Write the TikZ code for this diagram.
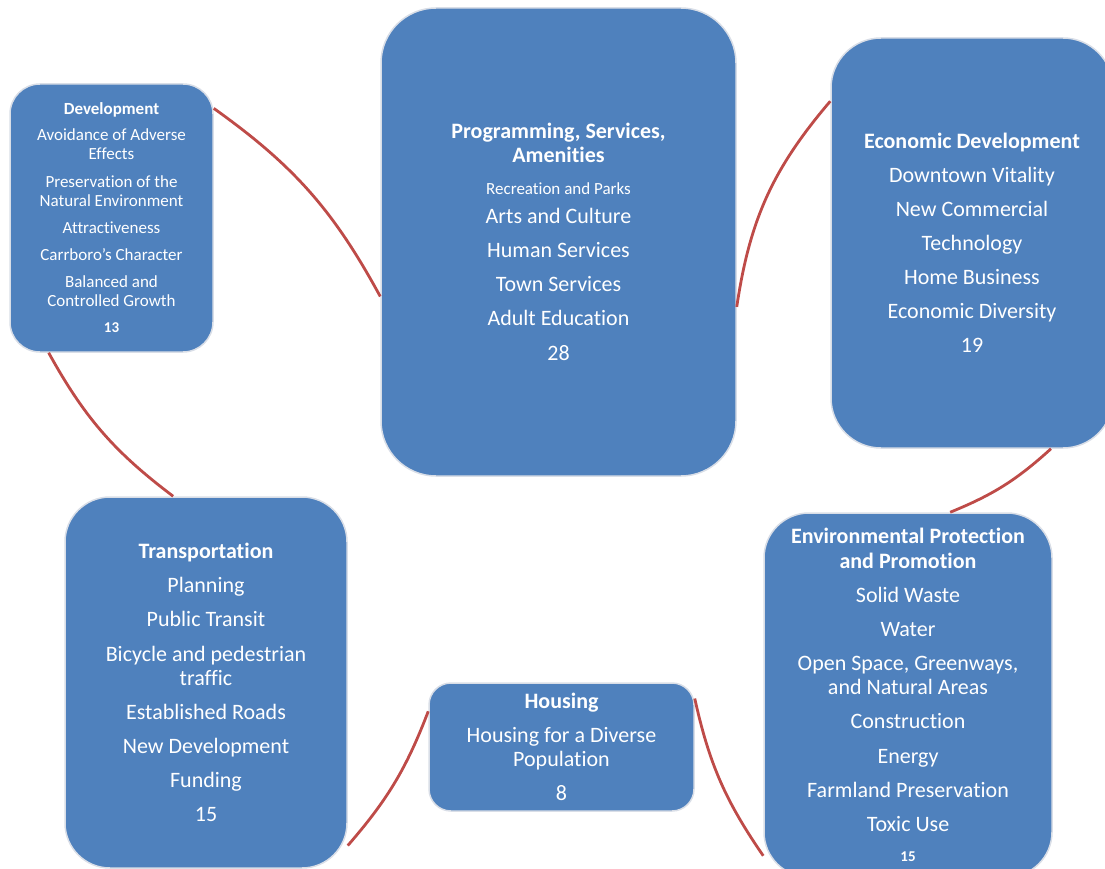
\documentclass[tikz,border=0pt]{standalone}
\usepackage{fontspec}
\setmainfont{Carlito}[Ligatures={NoCommon}]
\definecolor{boxblue}{HTML}{4F81BD}
\definecolor{boxedge}{HTML}{D9DEE7}
\definecolor{linkred}{HTML}{BE4B48}
\tikzset{
  card/.style={draw=boxedge, line width=1.5pt, fill=boxblue, text=white,
    align=center, inner sep=0pt, font=\fontsize{22}{24.5}\selectfont},
  link/.style={draw=linkred, line width=2.8pt},
}
\newcommand{\smallitem}{\fontsize{17}{19}\selectfont}
\newcommand{\tinynum}{\fontsize{15}{17}\selectfont\bfseries}
\begin{document}
\begin{tikzpicture}[x=1pt,y=-1pt]
\useasboundingbox (0,0) rectangle (1105,869);

\node[card, minimum width=203pt, minimum height=268pt, rounded corners=30pt,
      font=\fontsize{17}{19}\selectfont] (dev) at (111.5,218)
  {\textbf{Development}\\[7pt]
   Avoidance of Adverse\\ Effects\\[9pt]
   Preservation of the\\ Natural Environment\\[8pt]
   Attractiveness\\[8pt]
   Carrboro’s Character\\[8pt]
   Balanced and\\ Controlled Growth\\[7pt]
   {\tinynum 13}};

\node[card, minimum width=355pt, minimum height=468pt, rounded corners=55pt] (prog) at (558.5,242)
  {\textbf{Programming, Services,}\\ \textbf{Amenities}\\[7.5pt]
   {\smallitem Recreation and Parks}\\[4.5pt]
   Arts and Culture\\[9.5pt]
   Human Services\\[9.5pt]
   Town Services\\[9.5pt]
   Adult Education\\[10.5pt]
   28};

\node[card, minimum width=282pt, minimum height=410pt, rounded corners=50pt] (econ) at (972,243)
  {\textbf{Economic Development}\\[9.5pt]
   Downtown Vitality\\[9.5pt]
   New Commercial\\[9.5pt]
   Technology\\[9.5pt]
   Home Business\\[9.5pt]
   Economic Diversity\\[9.5pt]
   19};

\node[card, minimum width=282pt, minimum height=371pt, rounded corners=45pt] (trans) at (206,682.5)
  {\textbf{Transportation}\\[9.5pt]
   Planning\\[9.5pt]
   Public Transit\\[10.5pt]
   Bicycle and pedestrian\\ traffic\\[9.5pt]
   Established Roads\\[9.5pt]
   New Development\\[9.5pt]
   Funding\\[9.5pt]
   15};

\node[card, minimum width=265pt, minimum height=128pt, rounded corners=22pt] (hous) at (561.5,747)
  {\textbf{Housing}\\[9.5pt]
   Housing for a Diverse\\ Population\\[9.5pt]
   8};

\node[card, minimum width=288pt, minimum height=364pt, rounded corners=45pt] (env) at (908,695)
  {\textbf{Environmental Protection}\\ \textbf{and Promotion}\\[9.5pt]
   Solid Waste\\[9.5pt]
   Water\\[9.5pt]
   Open Space, Greenways,\\ and Natural Areas\\[9.5pt]
   Construction\\[10pt]
   Energy\\[9.5pt]
   Farmland Preservation\\[9.5pt]
   Toxic Use\\[5.5pt]
   {\tinynum 15}};

\draw[link] (dev.47) to[bend left=13] (prog.197);
\draw[link] (prog.340) to[bend left=16] (econ.135);
\draw[link] (econ.291) to[bend left=10] (env.77);
\draw[link] (env.228) to[bend left=11] (hous.20);
\draw[link] (hous.165) to[bend left=10] (trans.311);
\draw[link] (trans.100) to[bend left=12] (dev.245);
\end{tikzpicture}
\end{document}
